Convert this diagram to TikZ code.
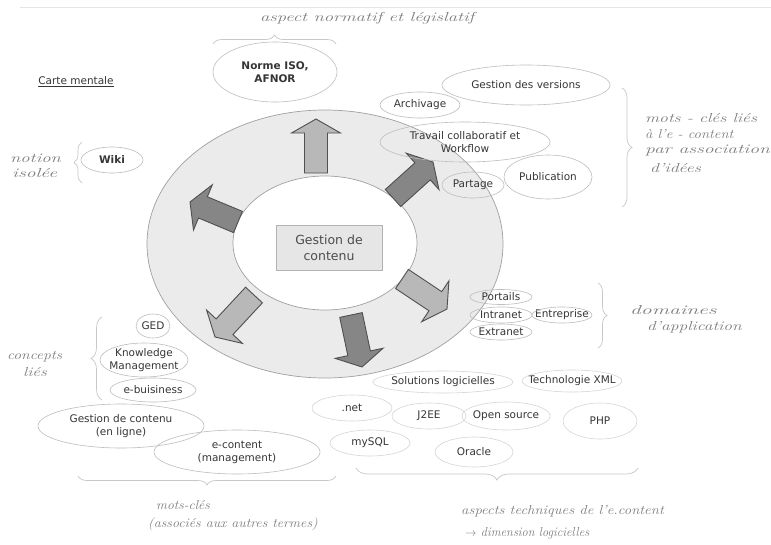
\documentclass[tikz,border=0pt]{standalone}
\usepackage{fontspec}
\newfontfamily\lab{DejaVu Sans}
\usetikzlibrary{calc,decorations.pathreplacing}
\definecolor{ringfill}{HTML}{EBEBEB}
\definecolor{ringline}{HTML}{A0A0A0}
\definecolor{boxfill}{HTML}{E6E6E6}
\definecolor{arrlight}{HTML}{B8B8B8}
\definecolor{arrdark}{HTML}{868686}
\definecolor{arredge}{HTML}{505050}
\definecolor{elline}{HTML}{BDBDBD}
\definecolor{elfaint}{HTML}{D6D6D6}
\definecolor{txt}{HTML}{363636}
\definecolor{handc}{HTML}{7E7E7E}
\definecolor{bracec}{HTML}{C8C8C8}
\tikzset{
  ell/.style={draw=elline, line width=0.6pt},
  lbl/.style={font=\lab\fontsize{10.5}{13}\selectfont, text=txt, align=center, inner sep=0pt},
  hand/.style={font=\itshape\fontsize{13}{15}\selectfont, text=handc, inner sep=0pt, anchor=west},
  brc/.style={draw=bracec, line width=0.7pt, decorate, decoration={brace, amplitude=#1}},
  brc/.default=8
}
\newcommand{\hw}[2]{\scalebox{#1}[1]{#2}}
\newcommand{\bub}[7][ell]{%
  \node[lbl] (#2) at (#3,#4) {#7};
  \draw[#1] (#2.center) ellipse [x radius=#5pt, y radius=#6pt];}
\newcommand{\blockarr}[4]{% name, fill, tail, tip
  \coordinate (#1T) at (#3);
  \coordinate (#1P) at (#4);
  \coordinate (#1B) at ($(#1P)!14pt!(#1T)$);
  \filldraw[fill=#2, draw=arredge, line width=0.9pt, line join=miter]
    ($(#1T)!11.5pt!90:(#1P)$) -- ($(#1B)!11.5pt!90:(#1P)$) --
    ($(#1B)!24.5pt!90:(#1P)$) -- (#1P) --
    ($(#1B)!24.5pt!-90:(#1P)$) -- ($(#1B)!11.5pt!-90:(#1P)$) --
    ($(#1T)!11.5pt!-90:(#1P)$) -- cycle;}
\begin{document}
\begin{tikzpicture}[x=1pt,y=-1pt]
\fill[white] (0,0) rectangle (771,544);
\useasboundingbox (0,0) rectangle (771,544);
\draw[draw=black!10, line width=0.6pt] (20,7) -- (771,7);

% ring
\draw[fill=ringfill, draw=ringline, line width=0.7pt] (325,244) ellipse [x radius=178pt, y radius=134pt];
\draw[fill=white, draw=ringline, line width=0.7pt] (325,243) ellipse [x radius=92pt, y radius=67pt];
\node[draw=black!30, fill=boxfill, minimum width=106pt, minimum height=45pt, inner sep=0pt,
      font=\lab\fontsize{12.5}{16}\selectfont, text=black!70, align=center] (centre) at (329,247.5) {Gestion de\\contenu};

% arrows
\blockarr{aup}{arrlight}{316,173}{316,119}
\blockarr{aur}{arrdark}{393,198}{433,162}
\blockarr{al}{arrdark}{238,222}{190,202}
\blockarr{adl}{arrlight}{254,295}{215,337}
\blockarr{adr}{arrlight}{402,279}{447,309}
\blockarr{ad}{arrdark}{351,315}{362,367}

% title
\node[lbl] (carte) at (76,82) {\underline{Carte mentale}};

% bubbles
\bub{norme}{275}{72}{62}{30}{\textbf{Norme ISO,}\\\textbf{AFNOR}}
\bub{versions}{526}{85}{84}{20}{Gestion des versions}
\bub{archiv}{420}{105}{40}{13}{Archivage}
\bub{travail}{465}{142}{85}{20}{Travail collaboratif et\\Workflow}
\bub{partage}{473}{185}{31}{13}{Partage}
\bub{publi}{548}{177}{44}{22}{Publication}
\bub{wiki}{112}{160}{31}{13}{\textbf{Wiki}}
\bub{portails}{501}{297}{31}{7.5}{Portails}
\bub{intranet}{501}{315}{31}{8}{Intranet}
\bub{extranet}{501}{332}{31}{8}{Extranet}
\bub{entreprise}{562}{315}{30}{8}{Entreprise}
\bub{ged}{153}{326}{17}{12}{GED}
\bub{km}{144}{360}{44}{17}{Knowledge\\Management}
\bub{ebiz}{153}{390}{43}{12}{e-buisiness}
\bub{gcl}{121}{426}{83}{22}{Gestion de contenu\\(en ligne)}
\bub{econt}{237}{452}{83}{22}{e-content\\(management)}
\bub[draw=elfaint, line width=0.6pt]{sol}{443}{382}{70}{11}{Solutions logicielles}
\bub[draw=elfaint, line width=0.6pt]{xml}{572}{381}{50}{11}{Technologie XML}
\bub[draw=elfaint, line width=0.6pt]{net}{352}{408}{40}{13}{.net}
\bub[draw=elfaint, line width=0.6pt]{j2ee}{429}{416}{37}{13}{J2EE}
\bub[draw=elfaint, line width=0.6pt]{open}{506}{416}{44}{14}{Open source}
\bub[draw=elfaint, line width=0.6pt]{php}{600}{421}{37}{18}{PHP}
\bub[draw=elfaint, line width=0.6pt]{mysql}{370}{443}{40}{13}{mySQL}
\bub[draw=elfaint, line width=0.6pt]{oracle}{474}{452}{39}{15}{Oracle}

% braces
\draw[brc=9] (213,44) -- (336,44);
\draw[brc=10] (622,88) -- (622,207);
\draw[brc=9] (598,283) -- (598,348);
\draw[brc=8] (82,183) -- (82,142);
\draw[brc=11] (102,400) -- (102,317);
\draw[brc=9] (336,476) -- (78,476);
\draw[brc=12] (638,468) -- (356,468);

% handwriting
\node[hand] (h1) at (260,18) {\hw{1.43}{aspect normatif et législatif}};
\node[hand] (h2a) at (645,118) {\hw{1.35}{mots - clés liés}};
\node[hand] (h2b) at (645,134) {\hw{1.13}{à l'e - content}};
\node[hand] (h2c) at (645,151) {\hw{1.5}{par association}};
\node[hand] (h2d) at (650,168) {\hw{1.37}{d'idées}};
\node[hand] (h3a) at (10,158) {\hw{1.43}{notion}};
\node[hand] (h3b) at (12,173) {\hw{1.5}{isolée}};
\node[hand] (h4a) at (7,357) {\hw{1.2}{concepts}};
\node[hand] (h4b) at (23,372) {\hw{1.3}{liés}};
\node[hand] (h5a) at (630,310) {\hw{1.66}{domaines}};
\node[hand] (h5b) at (647,327) {\hw{1.34}{d'application}};
\node[hand] (h6a) at (156,505) {\hw{1.05}{mots-clés}};
\node[hand] (h6b) at (148,524) {\hw{1.08}{(associés aux autres termes)}};
\node[hand] (h7a) at (461,511) {\hw{1.14}{aspects techniques de l'e.content}};
\node[hand] (h7b) at (465,533) {\hw{0.95}{$\rightarrow$ dimension logicielles}};
\end{tikzpicture}
\end{document}
